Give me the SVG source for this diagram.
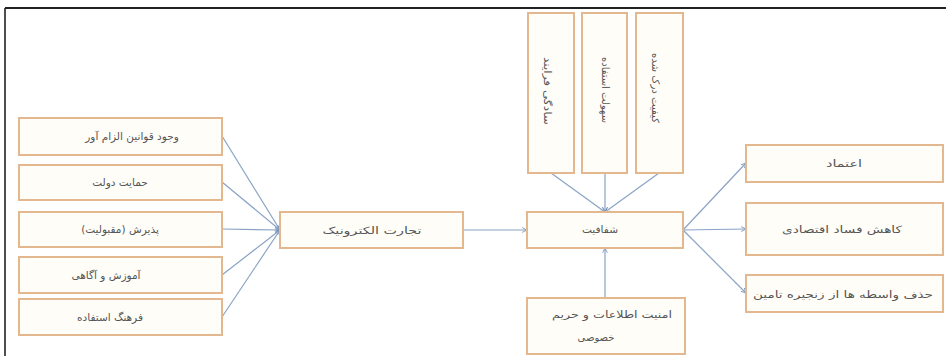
<svg xmlns="http://www.w3.org/2000/svg" width="946" height="356" viewBox="0 0 946 356">
<style>
.box{fill:#fffdf8;stroke:#e3b88f;stroke-width:2}
.t{font-family:"DejaVu Sans",sans-serif;font-size:10px;fill:#555555;text-anchor:middle}
.c{stroke:#8aa3c4;stroke-width:1.2;fill:none;marker-end:url(#ah)}
</style>
<defs>
<marker id="ah" viewBox="0 0 10 10" refX="9" refY="5" markerWidth="6" markerHeight="6" orient="auto" markerUnits="userSpaceOnUse">
<path d="M1,1 L9,5 L1,9" fill="none" stroke="#7b96bb" stroke-width="1.5"/>
</marker>
</defs>
<rect width="946" height="356" fill="#ffffff"/>
<g id="frame">
<line x1="5" y1="8" x2="946" y2="8" stroke="#222" stroke-width="2.2"/>
<line x1="5" y1="8" x2="5" y2="356" stroke="#222" stroke-width="1.6"/>
</g>
<g id="connectors">
<line class="c" x1="222" y1="136" x2="280" y2="230"/>
<line class="c" x1="222" y1="182" x2="280" y2="230"/>
<line class="c" x1="222" y1="229" x2="280" y2="230"/>
<line class="c" x1="222" y1="275" x2="280" y2="230"/>
<line class="c" x1="222" y1="317" x2="280" y2="230"/>
<line class="c" x1="463" y1="230" x2="527" y2="230"/>
<line class="c" x1="551" y1="173" x2="605" y2="212"/>
<line class="c" x1="605" y1="173" x2="605" y2="212"/>
<line class="c" x1="659" y1="173" x2="605" y2="212"/>
<line class="c" x1="605" y1="298" x2="605" y2="248"/>
<line class="c" x1="683" y1="230" x2="746" y2="163"/>
<line class="c" x1="683" y1="230" x2="746" y2="229"/>
<line class="c" x1="683" y1="230" x2="746" y2="293"/>
</g>
<g id="n1"><rect class="box" x="19" y="118" width="203" height="37"/><text class="t" x="132" y="140" style="font-size:10.5px">وجود قوانین الزام آور</text></g>
<g id="n2"><rect class="box" x="19" y="165" width="203" height="35"/><text class="t" x="120" y="186" style="font-size:10.5px">حمایت دولت</text></g>
<g id="n3"><rect class="box" x="19" y="212" width="203" height="35"/><text class="t" x="120" y="233" style="font-size:10.5px">پذیرش (مقبولیت)</text></g>
<g id="n4"><rect class="box" x="19" y="257" width="203" height="36"/><text class="t" x="106" y="279" style="font-size:10.5px">آموزش و آگاهی</text></g>
<g id="n5"><rect class="box" x="19" y="299" width="203" height="36"/><text class="t" x="110" y="321" style="font-size:10.5px">فرهنگ استفاده</text></g>
<g id="ecommerce"><rect class="box" x="280" y="212" width="183" height="36"/><text class="t" x="372" y="234" textLength="99" lengthAdjust="spacingAndGlyphs">تجارت الکترونیک</text></g>
<g id="transparency"><rect class="box" x="527" y="212" width="156" height="36"/><text class="t" x="600" y="233" textLength="36" lengthAdjust="spacingAndGlyphs">شفافیت</text></g>
<g id="v1"><rect class="box" x="528" y="13" width="46" height="160"/><text class="t" transform="translate(548,91) rotate(90)" y="4" textLength="68" lengthAdjust="spacingAndGlyphs">سادگی فرایند</text></g>
<g id="v2"><rect class="box" x="582" y="13" width="45" height="160"/><text class="t" transform="translate(606,90) rotate(90)" y="4" textLength="66" lengthAdjust="spacingAndGlyphs">سهولت استفاده</text></g>
<g id="v3"><rect class="box" x="636" y="13" width="47" height="160"/><text class="t" transform="translate(656,88) rotate(90)" y="4" textLength="70" lengthAdjust="spacingAndGlyphs">کیفیت درک شده</text></g>
<g id="security"><rect class="box" x="527" y="298" width="158" height="56"/><text class="t" x="612" y="318" textLength="120" lengthAdjust="spacingAndGlyphs">امنیت اطلاعات و حریم</text><text class="t" x="596" y="341">خصوصی</text></g>
<g id="r1"><rect class="box" x="746" y="145" width="197" height="37"/><text class="t" x="844" y="167" textLength="36" lengthAdjust="spacingAndGlyphs">اعتماد</text></g>
<g id="r2"><rect class="box" x="746" y="203" width="197" height="52"/><text class="t" x="842" y="233" textLength="120" lengthAdjust="spacingAndGlyphs">کاهش فساد اقتصادی</text></g>
<g id="r3"><rect class="box" x="746" y="275" width="197" height="37"/><text class="t" x="843" y="298" textLength="180" lengthAdjust="spacingAndGlyphs">حذف واسطه ها از زنجیره تامین</text></g>
</svg>
